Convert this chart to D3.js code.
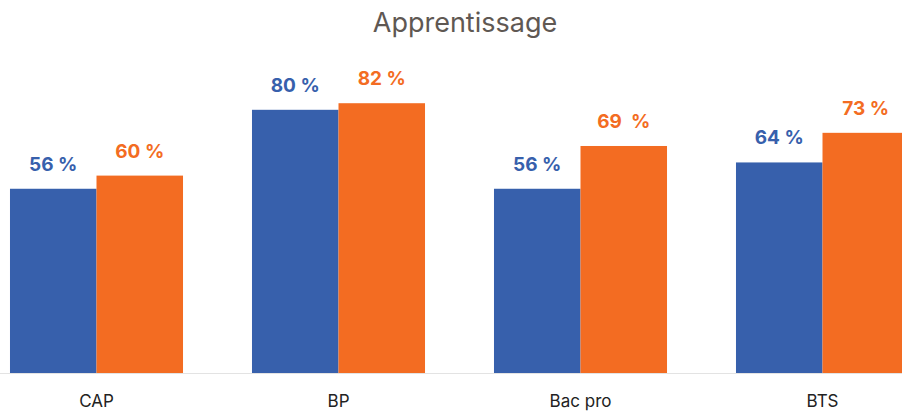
<!DOCTYPE html>
<html>
<head>
<meta charset="utf-8">
<script src="https://cdn.jsdelivr.net/npm/d3@7"></script>
<style>
  html, body { margin: 0; padding: 0; background: #fff; }
  svg { display: block; }
</style>
</head>
<body>
<svg id="chart" width="902" height="411"></svg>
<script>
// Apprenticeship: share per diploma, two series
const categories = ["CAP", "BP", "Bac pro", "BTS"];
const seriesNames = ["s1", "s2"];
const values1 = [56, 80, 56, 64];
const values2 = [60, 82, 69, 73];
const labels1 = ["56 %", "80 %", "56 %", "64 %"];
const labels2 = ["60 %", "82 %", "69  %", "73 %"];
const title = "Apprentissage";

const colors = { s1: "#3760AC", s2: "#F36C22" };
const W = 902, H = 411;
const baseline = 373;
const font = "Inter, 'Open Sans', sans-serif";

const svg = d3.select("#chart");

const x = d3.scaleBand()
  .domain(categories)
  .range([-24.5, 943.5])
  .paddingInner(0.285)
  .paddingOuter(0.1425);

const xs = d3.scaleBand()
  .domain(seriesNames)
  .range([0, x.bandwidth()]);

const y = d3.scaleLinear()
  .domain([0, 100])
  .range([baseline, baseline - 329]);

const rows = categories.map((c, i) => ({
  cat: c,
  items: [
    { key: "s1", v: values1[i], label: labels1[i] },
    { key: "s2", v: values2[i], label: labels2[i] }
  ]
}));

// title
svg.append("text")
  .attr("x", 465)
  .attr("y", 32)
  .attr("text-anchor", "middle")
  .attr("font-family", font)
  .attr("font-size", 27)
  .attr("fill", "#5F5853")
  .text(title);

const g = svg.append("g");

const groups = g.selectAll("g.cat")
  .data(rows)
  .join("g")
  .attr("class", "cat")
  .attr("transform", d => `translate(${x(d.cat)},0)`);

groups.selectAll("rect")
  .data(d => d.items)
  .join("rect")
  .attr("x", d => xs(d.key))
  .attr("width", xs.bandwidth())
  .attr("y", d => y(d.v))
  .attr("height", d => y(0) - y(d.v))
  .attr("fill", d => colors[d.key]);

groups.selectAll("text.val")
  .data(d => d.items)
  .join("text")
  .attr("class", "val")
  .attr("x", d => xs(d.key) + xs.bandwidth() / 2)
  .attr("y", d => y(d.v) - 18)
  .attr("text-anchor", "middle")
  .attr("font-family", font)
  .attr("font-weight", 700)
  .attr("font-size", 19)
  .attr("fill", d => colors[d.key])
  .style("white-space", "pre")
  .text(d => d.label);

// category axis
const axis = d3.axisBottom(x).tickSize(0).tickPadding(0);
const ax = svg.append("g")
  .attr("transform", `translate(0,${baseline})`)
  .call(axis);
ax.select(".domain")
  .attr("d", `M0,0.5H${W}`)
  .attr("stroke", "#E3E3E3")
  .attr("stroke-width", 1);
ax.selectAll(".tick text")
  .attr("y", 34)
  .attr("dy", null)
  .attr("font-family", font)
  .attr("font-size", 17)
  .attr("fill", "#222");
</script>
</body>
</html>
